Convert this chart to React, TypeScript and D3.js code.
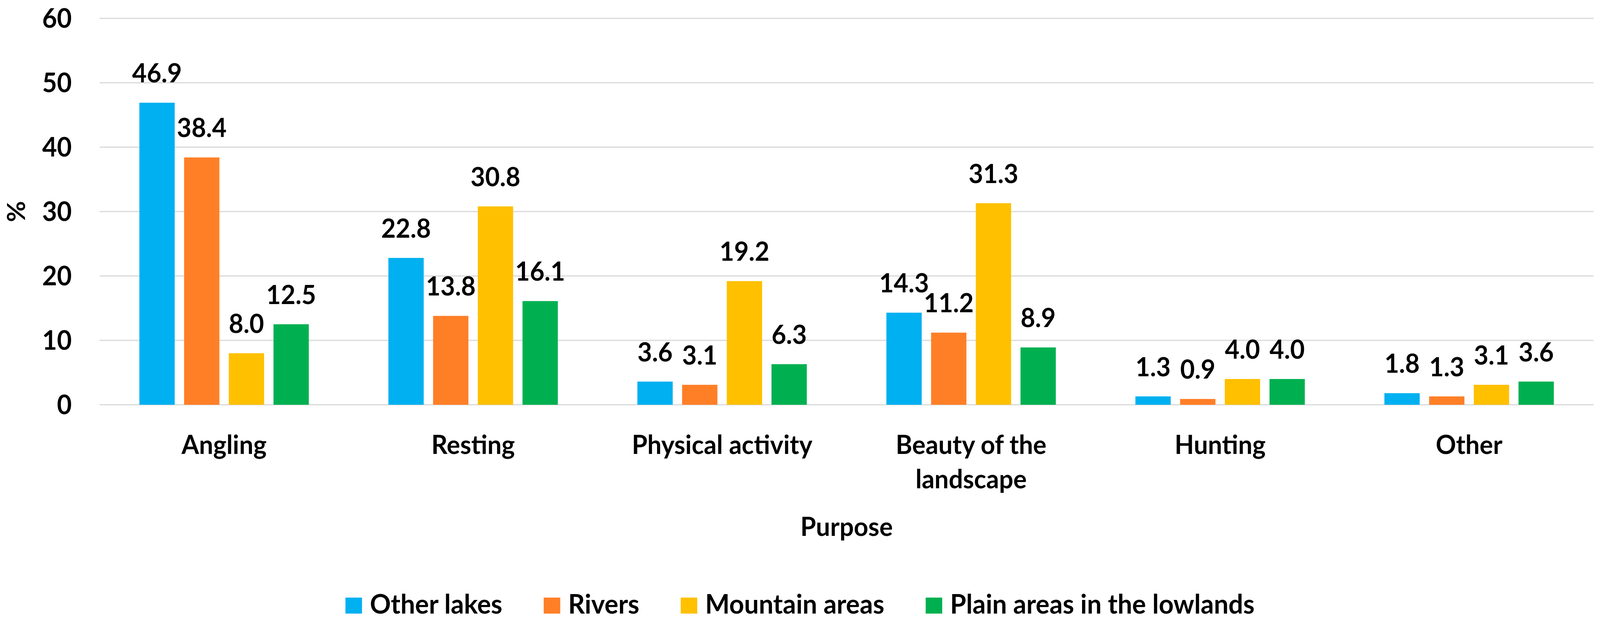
import { useRef, useEffect } from "react"
import * as d3 from "d3"

const categories = ["Angling", "Resting", "Physical activity", "Beauty of the landscape", "Hunting", "Other"]
const seriesNames = ["Other lakes", "Rivers", "Mountain areas", "Plain areas in the lowlands"]
const otherLakes = [46.9, 22.8, 3.6, 14.3, 1.3, 1.8]
const rivers = [38.4, 13.8, 3.1, 11.2, 0.9, 1.3]
const mountainAreas = [8.0, 30.8, 19.2, 31.3, 4.0, 3.1]
const plainAreas = [12.5, 16.1, 6.3, 8.9, 4.0, 3.6]
const yTicks = [0, 10, 20, 30, 40, 50, 60]
const colors = ["#00b0f0", "#ff7f27", "#ffc000", "#00b050"]

const W = 4257
const H = 1591
const FONT = "Lato, 'Open Sans', sans-serif"

export default function App() {
  const svgRef = useRef<SVGSVGElement | null>(null)

  useEffect(() => {
    if (!svgRef.current) return
    document.body.style.margin = "0"
    document.body.style.overflow = "hidden"
    document.documentElement.style.overflow = "hidden"

    const svg = d3.select(svgRef.current)
    svg.selectAll("*").remove()

    const margin = { top: 47, right: 17, bottom: 554, left: 265 }
    const innerW = W - margin.left - margin.right
    const innerH = H - margin.top - margin.bottom

    const values = [otherLakes, rivers, mountainAreas, plainAreas]
    const data = categories.map((c, i) => ({
      cat: c,
      vals: seriesNames.map((s, j) => ({ series: s, idx: j, value: values[j][i] })),
    }))

    const x0 = d3.scaleBand<string>().domain(categories).range([0, innerW]).padding(0)
    const x1 = d3
      .scaleBand<string>()
      .domain(seriesNames)
      .range([0, x0.bandwidth()])
      .paddingInner(0.21)
      .paddingOuter(0.89)
    const y = d3.scaleLinear().domain([0, 60]).range([innerH, 0])

    const g = svg.append("g").attr("transform", `translate(${margin.left},${margin.top})`)

    // gridlines
    g.selectAll(".grid")
      .data(yTicks)
      .enter()
      .append("line")
      .attr("x1", 0)
      .attr("x2", innerW)
      .attr("y1", (d) => y(d))
      .attr("y2", (d) => y(d))
      .attr("stroke", "#d9d9d9")
      .attr("stroke-width", 3)

    // y tick labels
    g.selectAll(".ytick")
      .data(yTicks)
      .enter()
      .append("text")
      .attr("x", -74)
      .attr("y", (d) => y(d))
      .attr("dy", "0.35em")
      .attr("text-anchor", "end")
      .attr("font-family", FONT)
      .attr("font-weight", 700)
      .attr("font-size", 68)
      .text((d) => d)

    // y axis title
    svg
      .append("text")
      .attr("transform", `translate(66,${margin.top + innerH / 2}) rotate(-90)`)
      .attr("text-anchor", "middle")
      .attr("font-family", FONT)
      .attr("font-weight", 700)
      .attr("font-size", 66)
      .text("%")

    // bars
    const groups = g
      .selectAll(".cat")
      .data(data)
      .enter()
      .append("g")
      .attr("transform", (d) => `translate(${x0(d.cat)},0)`)

    groups
      .selectAll("rect")
      .data((d) => d.vals)
      .enter()
      .append("rect")
      .attr("x", (d) => x1(d.series) as number)
      .attr("y", (d) => y(d.value))
      .attr("width", x1.bandwidth())
      .attr("height", (d) => innerH - y(d.value))
      .attr("fill", (d) => colors[d.idx])

    groups
      .selectAll(".lbl")
      .data((d) => d.vals)
      .enter()
      .append("text")
      .attr("x", (d) => (x1(d.series) as number) + x1.bandwidth() / 2)
      .attr("y", (d) => y(d.value) - 52)
      .attr("text-anchor", "middle")
      .attr("font-family", FONT)
      .attr("font-weight", 700)
      .attr("font-size", 67)
      .text((d) => d.value.toFixed(1))

    // category labels
    const catLines: Record<string, string[]> = { "Beauty of the landscape": ["Beauty of the", "landscape"] }
    categories.forEach((c) => {
      const lines = catLines[c] || [c]
      const t = g
        .append("text")
        .attr("x", (x0(c) as number) + x0.bandwidth() / 2)
        .attr("y", innerH + 126)
        .attr("text-anchor", "middle")
        .attr("font-family", FONT)
        .attr("font-weight", 700)
        .attr("font-size", 67)
      lines.forEach((ln, i) => {
        t.append("tspan")
          .attr("x", (x0(c) as number) + x0.bandwidth() / 2)
          .attr("dy", i === 0 ? 0 : 88)
          .text(ln)
      })
    })

    // x axis title
    svg
      .append("text")
      .attr("x", margin.left + innerW / 2)
      .attr("y", 1373)
      .attr("text-anchor", "middle")
      .attr("font-family", FONT)
      .attr("font-weight", 700)
      .attr("font-size", 67)
      .text("Purpose")

    // legend
    const legend = svg.append("g")
    const gap = 110
    let cx = 0
    seriesNames.forEach((s, i) => {
      const item = legend.append("g").attr("transform", `translate(${cx},0)`)
      item.append("rect").attr("x", 0).attr("y", -41).attr("width", 44).attr("height", 41).attr("fill", colors[i])
      const t = item
        .append("text")
        .attr("x", 65)
        .attr("y", 0)
        .attr("font-family", FONT)
        .attr("font-weight", 700)
        .attr("font-size", 69)
        .text(s)
      const tw = (t.node() as SVGTextElement).getComputedTextLength()
      cx += 65 + tw + gap
    })
    const legendW = cx - gap
    legend.attr("transform", `translate(${W / 2 - legendW / 2},1572)`)
  }, [])

  return (
    <svg
      ref={svgRef}
      viewBox={`0 0 ${W} ${H}`}
      preserveAspectRatio="none"
      style={{ display: "block", width: "100vw", height: "100vh", background: "#fff" }}
    ></svg>
  )
}
